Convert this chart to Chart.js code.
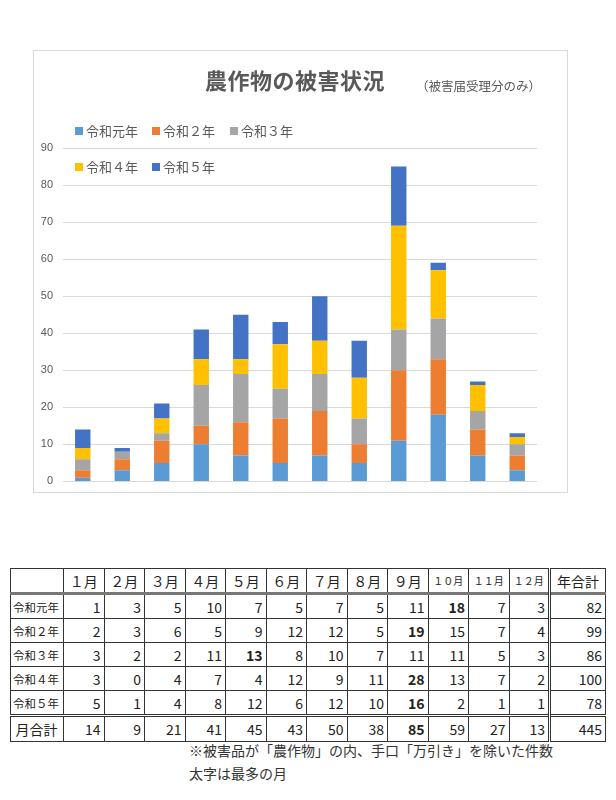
<!DOCTYPE html>
<html>
<head>
<meta charset="utf-8">
<script src="https://cdn.jsdelivr.net/npm/chart.js@4"></script>
<style>
  body { margin: 0; background: #fff; font-family: "Noto Sans CJK JP", "Noto Sans", sans-serif; }
  #box { position: absolute; left: 33px; top: 50px; width: 535px; height: 443px; border: 1px solid #d9d9d9; box-sizing: border-box; }
  #myChart { position: absolute; left: 0; top: 0; }
  #title { position: absolute; left: 205px; top: 63px; font-size: 22px; font-weight: bold; color: #595959; letter-spacing: 0.5px; }
  #sub { position: absolute; left: 416px; top: 76px; font-size: 12.5px; color: #595959; }
  .lg { position: absolute; font-size: 13px; color: #595959; white-space: nowrap; }
  .lg i { display: inline-block; width: 8px; height: 8px; margin-right: 3px; vertical-align: 1px; }
  #tbl { position: absolute; left: 10px; top: 568px; border-collapse: collapse; table-layout: fixed; width: 595px; font-size: 14px; color: #222; }
  #tbl td, #tbl th { border: 1px solid #333; padding: 0 3px; height: 23px; text-align: right; font-weight: normal; }
  #tbl th { text-align: center; padding: 0; }
  #tbl tr.head th { border-bottom: 3px solid #777; }
  #tbl td.rh { text-align: left; font-size: 11.5px; padding-left: 2px; }
  #tbl tr.sum td { border-top: 3px double #333; height: 24px; }
  #tbl tr.sum td.rh { font-size: 14px; text-align: center; }
  #tbl .yt { border-left: 3px double #333; }
  #tbl b { font-weight: bold; }
  .note { position: absolute; left: 189px; font-size: 14px; color: #333; }
</style>
</head>
<body>
<div id="box"><canvas id="myChart" width="533" height="447"></canvas></div>
<div id="title">農作物の被害状況</div>
<div id="sub">（被害届受理分のみ）</div>
<div id="legend"></div>
<table id="tbl"></table>
<div class="note" style="top:740px">※被害品が「農作物」の内、手口「万引き」を除いた件数</div>
<div class="note" style="top:763px">太字は最多の月</div>
<script>
const months = ['１月', '２月', '３月', '４月', '５月', '６月', '７月', '８月', '９月', '１０月', '１１月', '１２月'];
const seriesNames = ['令和元年', '令和２年', '令和３年', '令和４年', '令和５年'];
const reiwa1 = [1, 3, 5, 10, 7, 5, 7, 5, 11, 18, 7, 3];
const reiwa2 = [2, 3, 6, 5, 9, 12, 12, 5, 19, 15, 7, 4];
const reiwa3 = [3, 2, 2, 11, 13, 8, 10, 7, 11, 11, 5, 3];
const reiwa4 = [3, 0, 4, 7, 4, 12, 9, 11, 28, 13, 7, 2];
const reiwa5 = [5, 1, 4, 8, 12, 6, 12, 10, 16, 2, 1, 1];
const yTicks = [0, 10, 20, 30, 40, 50, 60, 70, 80, 90];
const colors = ['#5b9bd5', '#ed7d31', '#a5a5a5', '#ffc000', '#4472c4'];

const allSeries = [reiwa1, reiwa2, reiwa3, reiwa4, reiwa5];

// legend (Excel style, sits over the plot)
const legendPos = [[75, 121], [152, 121], [230, 121], [75, 157], [152, 157]];
const legend = document.getElementById('legend');
seriesNames.forEach((name, i) => {
  const d = document.createElement('div');
  d.className = 'lg';
  d.style.left = legendPos[i][0] + 'px';
  d.style.top = legendPos[i][1] + 'px';
  d.innerHTML = '<i style="background:' + colors[i] + '"></i>' + name;
  legend.appendChild(d);
});

const ctx = document.getElementById('myChart').getContext('2d');
const chart = new Chart(ctx, {
  type: 'bar',
  data: {
    labels: months,
    datasets: allSeries.map((vals, i) => ({
      label: seriesNames[i],
      data: vals,
      backgroundColor: colors[i],
      barPercentage: 0.39,
      categoryPercentage: 1
    }))
  },
  options: {
    responsive: false,
    animation: false,
    layout: { padding: { top: 97, bottom: 6, right: 30, left: 0 } },
    plugins: { legend: { display: false }, tooltip: { enabled: false } },
    scales: {
      x: { stacked: true, display: false },
      y: {
        stacked: true,
        min: 0,
        max: 90,
        afterBuildTicks: (s) => { s.ticks = yTicks.map(v => ({ value: v })); },
        afterFit: (s) => { s.width = 29; },
        ticks: { color: '#595959', font: { size: 11, family: 'Liberation Sans' }, padding: 10 },
        grid: { color: '#d9d9d9', drawTicks: false },
        border: { display: false }
      }
    }
  }
});

// table
const tbl = document.getElementById('tbl');
let html = '<colgroup><col style="width:53px">';
months.forEach(() => { html += '<col style="width:40.5px">'; });
html += '<col style="width:56px"></colgroup>';
html += '<tr class="head"><th></th>';
months.forEach((m) => {
  const small = m.length > 2 ? ' style="font-size:10px"' : '';
  html += '<th' + small + '>' + m + '</th>';
});
html += '<th class="yt">年合計</th></tr>';

const rowHtml = (name, vals, cls) => {
  const mx = Math.max(...vals);
  let r = '<tr' + (cls ? ' class="' + cls + '"' : '') + '><td class="rh">' + name + '</td>';
  vals.forEach((v) => { r += '<td>' + (v === mx ? '<b>' + v + '</b>' : v) + '</td>'; });
  r += '<td class="yt">' + vals.reduce((a, b) => a + b, 0) + '</td></tr>';
  return r;
};
allSeries.forEach((vals, i) => { html += rowHtml(seriesNames[i], vals); });
const monthTotals = months.map((m, j) => allSeries.reduce((a, s) => a + s[j], 0));
html += rowHtml('月合計', monthTotals, 'sum');
tbl.innerHTML = html;
</script>
</body>
</html>
